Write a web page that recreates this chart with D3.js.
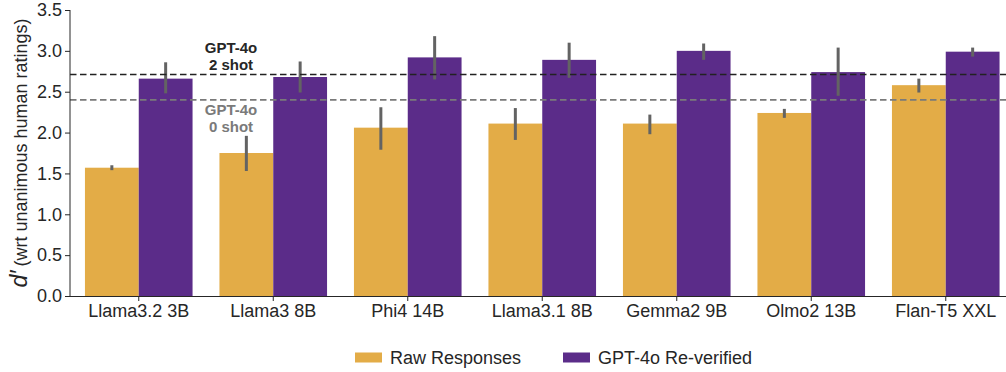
<!DOCTYPE html>
<html>
<head>
<meta charset="utf-8">
<script src="https://cdn.jsdelivr.net/npm/d3@7"></script>
<style>
  body { margin: 0; background: #fff; }
  text { font-family: "Liberation Sans", Arial, sans-serif; fill: #262626; }
</style>
</head>
<body>
<svg id="chart" width="1006" height="372"></svg>
<script>
// -----------------------------------------------------------------------------

var models = ['Llama3.2 3B', 'Llama3 8B', 'Phi4 14B', 'Llama3.1 8B', 'Gemma2 9B', 'Olmo2 13B', 'Flan-T5 XXL'];
var seriesNames = ['Raw Responses', 'GPT-4o Re-verified'];

var rawValues = [1.57, 1.75, 2.06, 2.11, 2.11, 2.24, 2.58];
var rawLow = [1.54, 1.53, 1.79, 1.91, 1.98, 2.18, 2.49];
var rawHigh = [1.60, 1.96, 2.31, 2.30, 2.22, 2.29, 2.66];

var verifiedValues = [2.66, 2.68, 2.92, 2.89, 3.00, 2.74, 2.99];
var verifiedLow = [2.48, 2.49, 2.65, 2.67, 2.89, 2.45, 2.93];
var verifiedHigh = [2.86, 2.87, 3.18, 3.10, 3.09, 3.04, 3.04];

var yTicks = [0, 0.5, 1, 1.5, 2, 2.5, 3, 3.5];
var refLines = [
  { value: 2.71, label: ['GPT-4o', '2 shot'], color: '#222222', textColor: '#262626' },
  { value: 2.40, label: ['GPT-4o', '0 shot'], color: '#7a7a7a', textColor: '#7a7a7a' }
];

var colors = ['#e3ac47', '#5b2c89'];

// -----------------------------------------------------------------------------

var svg = d3.select('#chart');
var width = 1006, height = 372;

var x = d3.scaleBand()
  .domain(models)
  .range([71.5, 1013])
  .paddingInner(0.2)
  .paddingOuter(0.1);

var xSub = d3.scaleBand()
  .domain(seriesNames)
  .range([0, x.bandwidth()]);

var y = d3.scaleLinear()
  .domain([0, 3.5])
  .range([296, 10]);

// - - - - - - - - - - - - - - - - - - - - - - - - - - - - - - - - - - - - - -

var rows = models.map(function (m, i) {
  return [
    { model: m, series: seriesNames[0], value: rawValues[i], lo: rawLow[i], hi: rawHigh[i], c: colors[0] },
    { model: m, series: seriesNames[1], value: verifiedValues[i], lo: verifiedLow[i], hi: verifiedHigh[i], c: colors[1] }
  ];
});

var gBars = svg.append('g');
var gGroup = gBars.selectAll('g')
  .data(rows)
  .join('g')
  .attr('transform', function (d) { return 'translate(' + x(d[0].model) + ',0)'; });

gGroup.selectAll('rect')
  .data(function (d) { return d; })
  .join('rect')
  .attr('x', function (d) { return xSub(d.series); })
  .attr('y', function (d) { return y(d.value); })
  .attr('width', xSub.bandwidth())
  .attr('height', function (d) { return y(0) - y(d.value); })
  .attr('fill', function (d) { return d.c; });

// - - - - - - - - - - - - - - - - - - - - - - - - - - - - - - - - - - - - - -

var gRef = svg.append('g');
gRef.selectAll('line')
  .data(refLines)
  .join('line')
  .attr('x1', 70)
  .attr('x2', width)
  .attr('y1', function (d) { return y(d.value); })
  .attr('y2', function (d) { return y(d.value); })
  .attr('stroke', function (d) { return d.color; })
  .attr('stroke-width', 1.6)
  .attr('stroke-dasharray', '6.5,3.5');

gGroup.selectAll('line.err')
  .data(function (d) { return d; })
  .join('line')
  .attr('class', 'err')
  .attr('x1', function (d) { return xSub(d.series) + xSub.bandwidth() / 2; })
  .attr('x2', function (d) { return xSub(d.series) + xSub.bandwidth() / 2; })
  .attr('y1', function (d) { return y(d.lo); })
  .attr('y2', function (d) { return y(d.hi); })
  .attr('stroke', '#636363')
  .attr('stroke-width', 3);

// annotation text for reference lines
var labelX = 231;
svg.append('g').selectAll('text')
  .data([
    { t: refLines[0].label[0], yy: 52.5, c: refLines[0].textColor },
    { t: refLines[0].label[1], yy: 70, c: refLines[0].textColor },
    { t: refLines[1].label[0], yy: 114.5, c: refLines[1].textColor },
    { t: refLines[1].label[1], yy: 132, c: refLines[1].textColor }
  ])
  .join('text')
  .attr('x', labelX)
  .attr('y', function (d) { return d.yy; })
  .attr('text-anchor', 'middle')
  .style('font-size', '15px')
  .style('font-weight', 'bold')
  .style('fill', function (d) { return d.c; })
  .text(function (d) { return d.t; });

// - - - - - - - - - - - - - - - - - - - - - - - - - - - - - - - - - - - - - -

var yAxis = svg.append('g')
  .attr('transform', 'translate(70,0)')
  .call(d3.axisLeft(y).tickValues(yTicks).tickFormat(d3.format('.1f')).tickSize(5).tickPadding(3));

var xAxis = svg.append('g')
  .attr('transform', 'translate(0,296)')
  .call(d3.axisBottom(x).tickSize(5).tickPadding(3));

[yAxis, xAxis].forEach(function (a) {
  a.select('.domain').attr('stroke', '#262626').attr('stroke-width', 1);
  a.selectAll('.tick line').attr('stroke', '#262626');
  a.selectAll('.tick text').style('font-size', '18px').style('fill', '#262626')
    .style('font-family', '"Liberation Sans", Arial, sans-serif');
});
xAxis.select('.domain').attr('d', 'M70,0.5H' + width);
yAxis.select('.domain').attr('d', 'M0,' + y(0) + 'V' + y(3.5));

// y axis title
var yTitle = svg.append('text')
  .attr('transform', 'translate(27,' + y(1.75) + ') rotate(-90)')
  .attr('text-anchor', 'middle')
  .style('font-size', '18px');
yTitle.append('tspan')
  .style('font-style', 'italic')
  .style('font-size', '23px')
  .text('d′');
yTitle.append('tspan')
  .attr('dx', 4)
  .text('(wrt unanimous human ratings)');

// - - - - - - - - - - - - - - - - - - - - - - - - - - - - - - - - - - - - - -

var legendItems = [
  { name: seriesNames[0], c: colors[0], x: 355 },
  { name: seriesNames[1], c: colors[1], x: 563 }
];
var gLegend = svg.append('g').selectAll('g')
  .data(legendItems)
  .join('g')
  .attr('transform', function (d) { return 'translate(' + d.x + ',352.5)'; });
gLegend.append('rect')
  .attr('width', 27)
  .attr('height', 10)
  .attr('fill', function (d) { return d.c; });
gLegend.append('text')
  .attr('x', 35)
  .attr('y', 11.5)
  .style('font-size', '18px')
  .text(function (d) { return d.name; });

// -----------------------------------------------------------------------------
</script>
</body>
</html>
